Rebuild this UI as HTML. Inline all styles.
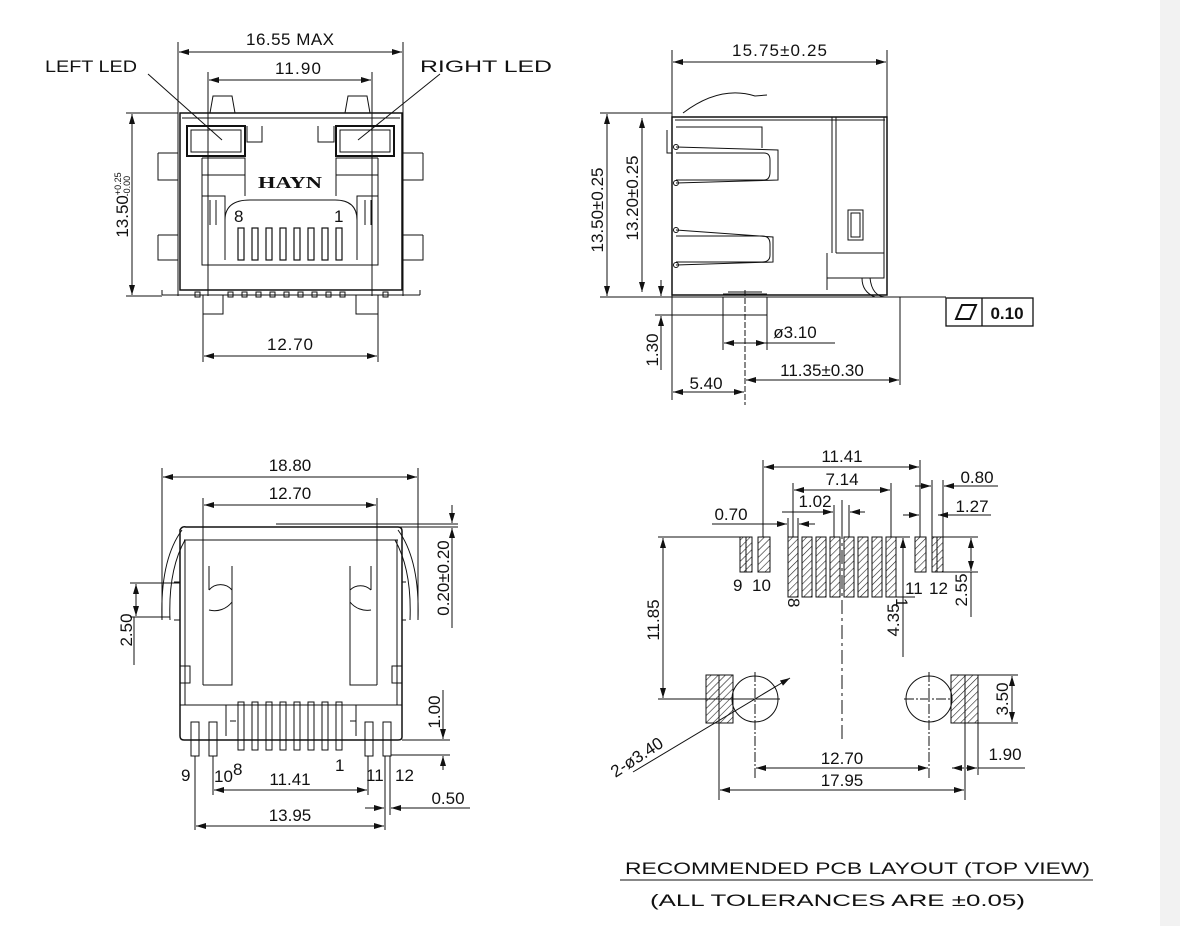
<!DOCTYPE html>
<html><head><meta charset="utf-8"><style>
html,body{margin:0;padding:0;background:#fff}
svg{display:block}
text{font-family:"Liberation Sans",sans-serif;fill:#111;font-size:17px}
</style></head><body>
<svg width="1180" height="926" viewBox="0 0 1180 926" xmlns="http://www.w3.org/2000/svg">
<defs>
<marker id="a" viewBox="0 0 10 6" refX="10" refY="3" markerWidth="10" markerHeight="6" orient="auto-start-reverse" markerUnits="userSpaceOnUse"><path d="M0,0 L10,3 L0,6 z" fill="#111"/></marker>
<pattern id="h" width="5" height="5" patternUnits="userSpaceOnUse" patternTransform="rotate(45)"><line x1="0" y1="0" x2="0" y2="5" stroke="#222" stroke-width="1.2"/></pattern>
</defs>
<rect x="1160" y="0" width="20" height="926" fill="#f2f2f2"/>
<g stroke="#111" stroke-width="1" fill="none">
<!-- ===== TOP LEFT ===== -->
<line x1="178" y1="42" x2="178" y2="296"/><line x1="403" y1="42" x2="403" y2="296"/>
<line x1="179" y1="52" x2="402" y2="52" marker-start="url(#a)" marker-end="url(#a)"/>
<line x1="208" y1="72" x2="208" y2="296"/><line x1="372" y1="72" x2="372" y2="296"/>
<line x1="209" y1="80" x2="371" y2="80" marker-start="url(#a)" marker-end="url(#a)"/>
<rect x="180" y="113" width="222" height="177" stroke-width="1.5"/>
<line x1="182" y1="118" x2="400" y2="118"/>
<path d="M210,113 L213,96 H232 L235,113 M345,113 L348,96 H367 L370,113"/>
<rect x="187" y="126" width="58" height="30" stroke-width="2"/><rect x="191" y="130" width="50" height="22"/>
<rect x="336" y="126" width="58" height="30" stroke-width="2"/><rect x="340" y="130" width="50" height="22"/>
<path d="M247,126 V142 H262 V126 M334,126 V142 H318 V126"/>
<path d="M202,158 H245 V196 M378,158 H336 V196 M202,158 V265 H378 V158"/>
<path d="M202,175 H245 M336,175 H378"/>
<path d="M202,196 H225 V220 Q225,200 250,200 H335 Q357,200 357,220 V196 H378 M225,220 V260 M357,220 V260"/>
<path d="M210,200 V225 M216,200 V225 M365,200 V225 M371,200 V225"/>
<g stroke-width="1.2"><rect x="238" y="228" width="6" height="32"/><rect x="252" y="228" width="6" height="32"/><rect x="266" y="228" width="6" height="32"/><rect x="280" y="228" width="6" height="32"/><rect x="294" y="228" width="6" height="32"/><rect x="308" y="228" width="6" height="32"/><rect x="322" y="228" width="6" height="32"/><rect x="336" y="228" width="6" height="32"/></g>
<path d="M158,153 H178 M158,153 V180 H178 M158,235 H178 M158,235 V260 H178 M423,153 H403 M423,153 V180 H403 M423,235 H403 M423,235 V260 H403"/>
<path d="M162,295 H420 M162,290 V295 M420,290 V295"/>
<g><rect x="203" y="295" width="20" height="19"/><rect x="356" y="295" width="22" height="19"/>
<rect x="195" y="292" width="5" height="5"/><rect x="228" y="292" width="5" height="5"/><rect x="242" y="292" width="5" height="5"/><rect x="256" y="292" width="5" height="5"/><rect x="270" y="292" width="5" height="5"/><rect x="284" y="292" width="5" height="5"/><rect x="298" y="292" width="5" height="5"/><rect x="312" y="292" width="5" height="5"/><rect x="326" y="292" width="5" height="5"/><rect x="340" y="292" width="5" height="5"/><rect x="383" y="292" width="5" height="5"/></g>
<line x1="203" y1="314" x2="203" y2="362"/><line x1="378" y1="314" x2="378" y2="362"/>
<line x1="204" y1="356" x2="377" y2="356" marker-start="url(#a)" marker-end="url(#a)"/>
<line x1="126" y1="113" x2="178" y2="113"/><line x1="126" y1="296" x2="162" y2="296"/>
<line x1="132" y1="114" x2="132" y2="295" marker-start="url(#a)" marker-end="url(#a)"/>
<line x1="148" y1="74" x2="222" y2="140"/><line x1="440" y1="74" x2="358" y2="140"/>
<!-- ===== TOP RIGHT ===== -->
<line x1="672" y1="50" x2="672" y2="400"/><line x1="887" y1="50" x2="887" y2="117"/>
<line x1="673" y1="62" x2="886" y2="62" marker-start="url(#a)" marker-end="url(#a)"/>
<path d="M683,113 Q720,85 755,96 L767,95"/>
<rect x="672" y="117" width="215" height="178" stroke-width="1.5"/>
<line x1="675" y1="120" x2="885" y2="120"/>
<path d="M832,117 V253 M836,117 V253 M836,253 H884 V117 M827,253 V278 H884 V253 M827,278 V290"/>
<rect x="848" y="210" width="15" height="30"/><rect x="851" y="213" width="9" height="24"/>
<path d="M667,130 V153 H672"/>
<path d="M676,127 H762 V148 M676,147 L778,150 V180 L676,183 M676,153 H764 Q770,153 770,160 V172 Q770,180 764,180 L676,180"/>
<path d="M676,230 L773,237 V262 L676,265 M676,236 L762,236 Q770,236 770,244 V255 Q770,262 762,262 L676,262"/>
<circle cx="676" cy="147" r="2.5"/><circle cx="676" cy="183" r="2.5"/><circle cx="676" cy="230" r="2.5"/><circle cx="676" cy="265" r="2.5"/>
<path d="M600,297 H900 M900,297 V385 M870,278 Q872,296 885,297 M862,278 Q862,292 875,297"/>
<path d="M723,294 H767 M723,297 V315 H767 V297 M728,292 H762"/>
<line x1="745" y1="290" x2="745" y2="405" stroke-dasharray="6,2"/>
<line x1="723" y1="315" x2="723" y2="350"/><line x1="767" y1="315" x2="767" y2="350"/>
<line x1="724" y1="343" x2="766" y2="343" marker-start="url(#a)" marker-end="url(#a)"/><line x1="766" y1="343" x2="835" y2="343"/>
<line x1="655" y1="315" x2="723" y2="315"/>
<line x1="661" y1="280" x2="661" y2="296" marker-end="url(#a)"/><line x1="661" y1="370" x2="661" y2="316" marker-end="url(#a)"/>
<line x1="600" y1="113" x2="672" y2="113"/>
<line x1="607" y1="114" x2="607" y2="296" marker-start="url(#a)" marker-end="url(#a)"/>
<line x1="642" y1="118" x2="642" y2="292" marker-start="url(#a)" marker-end="url(#a)"/>
<line x1="673" y1="392" x2="744" y2="392" marker-start="url(#a)" marker-end="url(#a)"/>
<line x1="746" y1="380" x2="899" y2="380" marker-start="url(#a)" marker-end="url(#a)"/>
<line x1="900" y1="297" x2="946" y2="297"/>
<rect x="946" y="298" width="87" height="28" stroke-width="1.3"/><line x1="982" y1="298" x2="982" y2="326" stroke-width="1.3"/>
<path d="M956,319 L962,305 H976 L970,319 Z" stroke-width="2"/>
<!-- ===== BOTTOM LEFT ===== -->
<line x1="162" y1="468" x2="162" y2="620"/><line x1="418" y1="468" x2="418" y2="620"/>
<line x1="163" y1="477" x2="417" y2="477" marker-start="url(#a)" marker-end="url(#a)"/>
<line x1="203" y1="498" x2="203" y2="685"/><line x1="377" y1="498" x2="377" y2="685"/>
<line x1="204" y1="505" x2="376" y2="505" marker-start="url(#a)" marker-end="url(#a)"/>
<path d="M180,530 Q182,526 186,527 H398 Q402,527 402,531 V737 Q402,740 398,740 H184 Q180,740 180,736 Z" stroke-width="1.5"/>
<line x1="184" y1="540" x2="398" y2="540"/>
<path d="M185,540 V705 M397,540 V705 M180,705 H402"/>
<path d="M182,530 Q160,560 162,620 M185,540 Q168,570 170,620 M398,530 Q420,560 418,620 M395,540 Q412,570 410,620"/>
<path d="M174,582 H180 V620 H174 M406,582 H402 V620 H406"/>
<path d="M209,566 V590 M232,566 V602 A 22 22 0 0 1 209 610 M209,590 A15 15 0 0 1 232 590"/>
<path d="M371,566 V590 M350,566 V602 A 22 22 0 0 0 371 610 M371,590 A15 15 0 0 0 350 590"/>
<path d="M203,685 H232 V600 M377,685 H350 V600"/>
<path d="M180,666 H190 V683 H180 M402,666 H392 V683 H402"/>
<path d="M226,705 V736 M356,705 V736 M230,721 H236 M350,721 H356"/>
<g><rect x="238" y="702" width="6" height="48"/><rect x="252" y="702" width="6" height="48"/><rect x="266" y="702" width="6" height="48"/><rect x="280" y="702" width="6" height="48"/><rect x="294" y="702" width="6" height="48"/><rect x="308" y="702" width="6" height="48"/><rect x="322" y="702" width="6" height="48"/><rect x="336" y="702" width="6" height="48"/>
<rect x="191" y="722" width="8" height="34"/><rect x="209" y="722" width="8" height="34"/><rect x="365" y="722" width="8" height="34"/><rect x="383" y="722" width="8" height="34"/></g>
<line x1="195" y1="756" x2="195" y2="830"/><line x1="213" y1="756" x2="213" y2="795"/><line x1="368" y1="756" x2="368" y2="795"/><line x1="385" y1="756" x2="385" y2="830"/><line x1="390" y1="756" x2="390" y2="815"/>
<line x1="214" y1="790" x2="367" y2="790" marker-start="url(#a)" marker-end="url(#a)"/>
<line x1="196" y1="826" x2="384" y2="826" marker-start="url(#a)" marker-end="url(#a)"/>
<line x1="365" y1="808" x2="384" y2="808" marker-end="url(#a)"/><line x1="470" y1="808" x2="391" y2="808" marker-end="url(#a)"/>
<line x1="130" y1="583" x2="180" y2="583"/><line x1="130" y1="617" x2="170" y2="617"/>
<line x1="136" y1="584" x2="136" y2="616" marker-start="url(#a)" marker-end="url(#a)"/><line x1="134" y1="617" x2="134" y2="665"/>
<line x1="276" y1="524" x2="458" y2="524"/><line x1="395" y1="527" x2="458" y2="527"/>
<line x1="452" y1="505" x2="452" y2="523" marker-end="url(#a)"/><line x1="452" y1="628" x2="452" y2="528" marker-end="url(#a)"/>
<line x1="402" y1="740" x2="450" y2="740"/><line x1="391" y1="755" x2="450" y2="755"/>
<line x1="443" y1="690" x2="443" y2="739" marker-end="url(#a)"/><line x1="443" y1="770" x2="443" y2="756" marker-end="url(#a)"/>
<!-- ===== BOTTOM RIGHT ===== -->
<g fill="url(#h)">
<rect x="740" y="537" width="12" height="35"/><rect x="758" y="537" width="12" height="35"/>
<rect x="788" y="537" width="10" height="60"/><rect x="802" y="537" width="10" height="60"/><rect x="816" y="537" width="10" height="60"/><rect x="830" y="537" width="10" height="60"/><rect x="844" y="537" width="10" height="60"/><rect x="858" y="537" width="10" height="60"/><rect x="872" y="537" width="10" height="60"/><rect x="886" y="537" width="10" height="60"/>
<rect x="915" y="537" width="11" height="35"/><rect x="932" y="537" width="11" height="35"/>
<rect x="706" y="675" width="27" height="48"/><rect x="951" y="675" width="27" height="48"/>
</g>
<line x1="719" y1="675" x2="719" y2="800"/><line x1="965" y1="675" x2="965" y2="800"/>
<line x1="746" y1="537" x2="746" y2="572"/><line x1="937" y1="537" x2="937" y2="572"/>
<circle cx="755" cy="699" r="23"/><circle cx="929" cy="699" r="23"/>
<line x1="755" y1="672" x2="755" y2="780" stroke-dasharray="10,2,2,2"/><line x1="929" y1="672" x2="929" y2="780" stroke-dasharray="10,2,2,2"/>
<line x1="658" y1="699" x2="780" y2="699"/><line x1="904" y1="699" x2="952" y2="699" stroke-dasharray="10,2,2,2"/>
<line x1="842" y1="500" x2="842" y2="740" stroke-dasharray="14,4,3,4"/>
<line x1="658" y1="537" x2="740" y2="537"/><line x1="943" y1="537" x2="978" y2="537"/>
<line x1="663" y1="538" x2="663" y2="698" marker-start="url(#a)" marker-end="url(#a)"/>
<line x1="896" y1="537" x2="910" y2="537"/><line x1="896" y1="597" x2="915" y2="597"/>
<line x1="903" y1="538" x2="903" y2="657" marker-start="url(#a)"/>
<line x1="943" y1="572" x2="978" y2="572"/>
<line x1="971" y1="538" x2="971" y2="571" marker-start="url(#a)" marker-end="url(#a)"/><line x1="971" y1="572" x2="971" y2="617"/>
<line x1="978" y1="675" x2="1018" y2="675"/><line x1="978" y1="723" x2="1018" y2="723"/>
<line x1="1012" y1="676" x2="1012" y2="722" marker-start="url(#a)" marker-end="url(#a)"/>
<line x1="978" y1="723" x2="978" y2="775"/>
<line x1="952" y1="768" x2="964" y2="768" marker-start="url(#a)"/><line x1="966" y1="768" x2="977" y2="768" marker-end="url(#a)"/><line x1="978" y1="768" x2="1025" y2="768"/>
<line x1="756" y1="768" x2="928" y2="768" marker-start="url(#a)" marker-end="url(#a)"/>
<line x1="720" y1="790" x2="964" y2="790" marker-start="url(#a)" marker-end="url(#a)"/>
<line x1="763" y1="460" x2="763" y2="537"/><line x1="920" y1="460" x2="920" y2="537"/>
<line x1="764" y1="467" x2="919" y2="467" marker-start="url(#a)" marker-end="url(#a)"/>
<line x1="793" y1="483" x2="793" y2="537"/><line x1="891" y1="483" x2="891" y2="537"/>
<line x1="794" y1="490" x2="890" y2="490" marker-start="url(#a)" marker-end="url(#a)"/>
<line x1="834" y1="505" x2="834" y2="537"/><line x1="849" y1="505" x2="849" y2="537"/><line x1="842" y1="500" x2="842" y2="537"/>
<line x1="782" y1="512" x2="833" y2="512" marker-end="url(#a)"/><line x1="865" y1="512" x2="850" y2="512" marker-end="url(#a)"/>
<line x1="788" y1="518" x2="788" y2="537"/><line x1="798" y1="518" x2="798" y2="537"/>
<line x1="712" y1="524" x2="787" y2="524" marker-end="url(#a)"/><line x1="815" y1="524" x2="799" y2="524" marker-end="url(#a)"/>
<line x1="932" y1="480" x2="932" y2="537"/><line x1="943" y1="480" x2="943" y2="537"/>
<line x1="915" y1="486" x2="931" y2="486" marker-end="url(#a)"/><line x1="998" y1="486" x2="944" y2="486" marker-end="url(#a)"/>
<line x1="903" y1="515" x2="919" y2="515" marker-end="url(#a)"/><line x1="991" y1="515" x2="938" y2="515" marker-end="url(#a)"/>
<line x1="920" y1="510" x2="920" y2="537"/>
<line x1="633" y1="772" x2="790" y2="678" marker-end="url(#a)"/>
<line x1="620" y1="880" x2="1093" y2="880"/>
</g>
<!-- TEXT -->
<text x="246" y="45" textLength="88" lengthAdjust="spacing">16.55  MAX</text>
<text x="275" y="74" textLength="46" lengthAdjust="spacing">11.90</text>
<text x="45" y="72" font-size="21" textLength="92" lengthAdjust="spacingAndGlyphs">LEFT  LED</text>
<text x="420" y="72" font-size="21" textLength="132" lengthAdjust="spacingAndGlyphs">RIGHT  LED</text>
<text x="258" y="188" font-weight="bold" font-size="22" textLength="64" lengthAdjust="spacingAndGlyphs" style="font-family:'Liberation Serif',serif">HAYN</text>
<text x="234" y="222" font-size="22">8</text><text x="334" y="222" font-size="22">1</text>
<text x="267" y="350" textLength="46" lengthAdjust="spacing">12.70</text>
<text transform="translate(128,205) rotate(-90)" text-anchor="middle">13.50<tspan font-size="9" dy="-7">+0.25</tspan><tspan font-size="9" dx="-24" dy="9">-0.00</tspan></text>
<text x="732" y="56" textLength="95" lengthAdjust="spacing">15.75±0.25</text>
<text transform="translate(603,210) rotate(-90)" text-anchor="middle">13.50±0.25</text>
<text transform="translate(638,198) rotate(-90)" text-anchor="middle">13.20±0.25</text>
<text transform="translate(658,350) rotate(-90)" text-anchor="middle">1.30</text>
<text x="795" y="338" text-anchor="middle">ø3.10</text>
<text x="706" y="389" text-anchor="middle">5.40</text>
<text x="822" y="376" text-anchor="middle">11.35±0.30</text>
<text x="1007" y="319" text-anchor="middle" font-weight="bold" font-size="18">0.10</text>
<text x="290" y="471" text-anchor="middle">18.80</text>
<text x="290" y="499" text-anchor="middle">12.70</text>
<text transform="translate(132,630) rotate(-90)" text-anchor="middle">2.50</text>
<text transform="translate(449,578) rotate(-90)" text-anchor="middle">0.20±0.20</text>
<text transform="translate(440,712) rotate(-90)" text-anchor="middle">1.00</text>
<text x="181" y="781" font-size="18">9</text><text x="214" y="782">10</text><text x="233" y="775" font-size="20">8</text>
<text x="335" y="771" font-size="18">1</text><text x="366" y="781">11</text><text x="395" y="781">12</text>
<text x="290" y="785" text-anchor="middle">11.41</text>
<text x="290" y="821" text-anchor="middle">13.95</text>
<text x="448" y="804" text-anchor="middle">0.50</text>
<text x="842" y="462" text-anchor="middle">11.41</text>
<text x="842" y="485" text-anchor="middle">7.14</text>
<text x="815" y="507" text-anchor="middle">1.02</text>
<text x="731" y="520" text-anchor="middle">0.70</text>
<text x="977" y="483" text-anchor="middle">0.80</text>
<text x="972" y="512" text-anchor="middle">1.27</text>
<text x="733" y="591">9</text><text x="752" y="591">10</text>
<text transform="translate(788,598) rotate(90)">8</text>
<text transform="translate(896,598) rotate(90)">1</text>
<text x="905" y="594">11</text><text x="929" y="594">12</text>
<text transform="translate(659,620) rotate(-90)" text-anchor="middle">11.85</text>
<text transform="translate(899,620) rotate(-90)" text-anchor="middle">4.35</text>
<text transform="translate(967,590) rotate(-90)" text-anchor="middle">2.55</text>
<text transform="translate(1008,699) rotate(-90)" text-anchor="middle">3.50</text>
<text x="1005" y="760" text-anchor="middle">1.90</text>
<text x="842" y="764" text-anchor="middle">12.70</text>
<text x="842" y="786" text-anchor="middle">17.95</text>
<text transform="translate(640,762) rotate(-33)" text-anchor="middle">2-ø3.40</text>
<text x="625" y="874" font-size="20" textLength="465" lengthAdjust="spacingAndGlyphs">RECOMMENDED  PCB  LAYOUT  (TOP  VIEW)</text>
<text x="650" y="906" font-size="20" textLength="375" lengthAdjust="spacingAndGlyphs">(ALL  TOLERANCES  ARE  ±0.05)</text>
</svg>
</body></html>
